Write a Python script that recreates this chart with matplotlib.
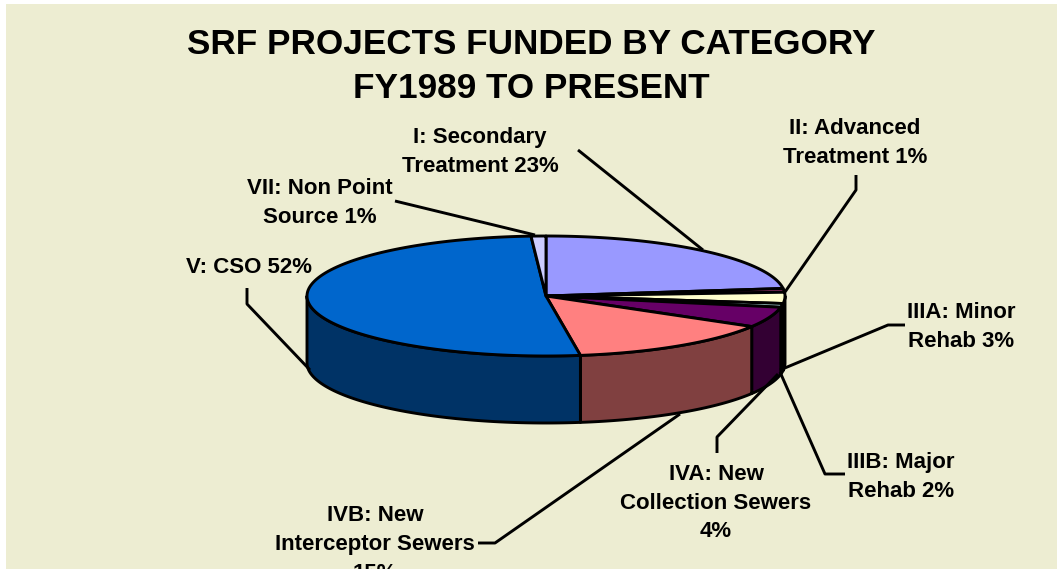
import numpy as np
import matplotlib
matplotlib.use("Agg")
import matplotlib.pyplot as plt
from matplotlib.patches import Polygon, Rectangle

plt.rcParams['font.family'] = ['Liberation Sans', 'DejaVu Sans']

title = "SRF PROJECTS FUNDED BY CATEGORY\nFY1989 TO PRESENT"

# slices clockwise from 12 o'clock, percent
categories = ["I", "II", "IIIA", "IIIB", "IVA", "IVB", "V", "VII"]
shares = [23.0, 1.0, 3.0, 1.0, 5.5, 14.2, 51.3, 1.0]
top_colors = ["#9999FF", "#993366", "#FFFFCC", "#CCFFFF", "#660066", "#FF8080", "#0066CC", "#CCCCFF"]
side_colors = ["#4D4D80", "#4D1A33", "#808066", "#668080", "#330033", "#804040", "#003366", "#666680"]

labels = ["I: Secondary\nTreatment 23%", "II: Advanced\nTreatment 1%", "IIIA: Minor\nRehab 3%",
          "IIIB: Major\nRehab 2%", "IVA: New\nCollection Sewers\n4%",
          "IVB: New\nInterceptor Sewers\n15%", "V: CSO 52%", "VII: Non Point\nSource 1%"]
label_pos = [(480, 152), (855, 143), (961, 327), (901, 477), (716, 503), (375, 544.5), (249, 267), (320, 203)]
leaders = [
    [(578, 150), (703, 250)],
    [(856, 175), (856, 190), (785, 292)],
    [(905, 325), (888, 325), (780, 370)],
    [(845, 474), (825, 474), (780, 372)],
    [(717, 453), (717, 437), (778, 374)],
    [(478, 543), (495, 543), (680, 414)],
    [(247, 288), (247, 304), (310, 370)],
    [(395, 201), (535, 235)],
]

CX, CY = 546, 296
RX, RY = 239, 60
DEPTH = 67
LW = 2.1


def rim(a, b):
    t = np.radians(np.linspace(a, b, 120))
    return CX + RX * np.cos(t), CY - RY * np.sin(t)


fig = plt.figure(figsize=(10.57, 5.69), dpi=100, facecolor="white")
ax = fig.add_axes([0, 0, 1, 1])
ax.set_xlim(0, 1057)
ax.set_ylim(569, 0)
ax.axis("off")
ax.add_patch(Rectangle((5.5, 4), 1052, 566, facecolor="#EDEDD2", edgecolor="none", zorder=0))

edges = 90 - np.cumsum([0] + shares) * 3.6

# walls first, only the part of the rim facing the viewer
for i in range(len(shares)):
    a = min(edges[i], 0)
    b = max(edges[i + 1], -180)
    if a <= b:
        continue
    x, y = rim(a, b)
    pts = np.vstack([np.column_stack([x, y]), np.column_stack([x, y + DEPTH])[::-1]])
    ax.add_patch(Polygon(pts, facecolor=side_colors[i], edgecolor="black", lw=LW, joinstyle="round", zorder=2))

for i in range(len(shares)):
    x, y = rim(edges[i], edges[i + 1])
    pts = np.vstack([[CX, CY], np.column_stack([x, y])])
    ax.add_patch(Polygon(pts, facecolor=top_colors[i], edgecolor="black", lw=LW, joinstyle="round", zorder=3))

for line in leaders:
    xs, ys = zip(*line)
    ax.plot(xs, ys, color="black", lw=LW, zorder=4, solid_capstyle="butt")

ax.text(531, 66.5, title, ha="center", va="center", fontsize=25.3, fontweight="bold", linespacing=1.43, zorder=5)
for txt, (x, y) in zip(labels, label_pos):
    ax.text(x, y, txt, ha="center", va="center", fontsize=16, fontweight="bold", linespacing=1.48, zorder=5)

fig.savefig("out.png", dpi=100, facecolor="white")
